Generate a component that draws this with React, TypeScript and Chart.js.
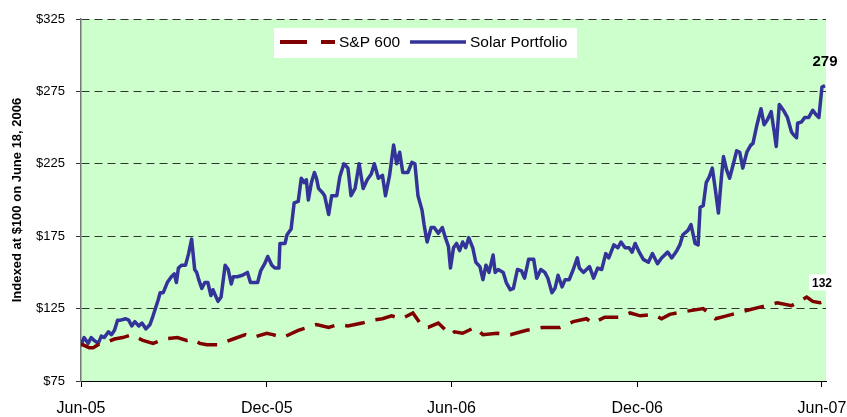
import React, { useEffect, useRef } from "react";
import { Chart, registerables } from "chart.js";

Chart.register(...registerables);

// X axis: days since the start of June 2005
const xTickDays = [0, 183, 365, 548, 730];
const xTickLabels = ["Jun-05", "Dec-05", "Jun-06", "Dec-06", "Jun-07"];
const xMaxDay = 734;

const yMin = 75;
const yMax = 325;
const yStep = 50;

const seriesNames = ["S&P 600", "Solar Portfolio"];
const endLabels = ["132", "279"];
const yAxisTitle = "Indexed at $100 on June 18, 2006";

const solarDays = [
  0, 3, 7, 10, 13, 17, 20, 23, 27, 30,
  33, 36, 39, 44, 47, 50, 53, 57, 60, 64,
  68, 71, 76, 78, 81, 85, 89, 92, 94, 96,
  99, 103, 106, 109, 112, 114, 116, 119, 122, 125,
  128, 130, 135, 138, 142, 145, 148, 150, 154, 159,
  164, 167, 171, 174, 177, 181, 184, 188, 191, 195,
  196, 201, 203, 207, 210, 214, 217, 220, 222, 224,
  227, 230, 232, 234, 238, 240, 244, 247, 252, 255,
  259, 263, 266, 270, 274, 278, 282, 286, 289, 293,
  297, 300, 304, 308, 311, 314, 317, 322, 326, 329,
  332, 336, 338, 341, 345, 348, 352, 356, 359, 362,
  364, 367, 370, 373, 376, 379, 382, 386, 389, 393,
  396, 399, 402, 406, 408, 411, 416, 419, 423, 426,
  430, 434, 437, 441, 446, 449, 453, 457, 460, 464,
  467, 470, 474, 477, 481, 485, 489, 491, 495, 501,
  505, 509, 513, 517, 520, 525, 529, 532, 536, 540,
  543, 546, 550, 554, 559, 563, 568, 572, 578, 582,
  587, 590, 593, 598, 601, 605, 608, 610, 613, 616,
  619, 622, 625, 628, 631, 633, 636, 639, 642, 646,
  649, 652, 656, 660, 662, 666, 670, 673, 676, 680,
  683, 685, 688, 692, 696, 700, 702, 705, 706, 710,
  713, 717, 721, 724, 727, 730, 733,
];

const solarValues = [
  100, 105, 101, 105, 103, 101, 106, 105, 109, 107,
  110, 117, 117, 118, 117, 113, 116, 113, 115, 111,
  114, 120, 131, 136, 136, 143, 147, 149, 143, 153,
  155, 155, 163, 173, 152, 150, 145, 139, 143, 143,
  134, 138, 130, 133, 155, 152, 142, 147, 147, 148,
  150, 143, 143, 143, 151, 156, 161, 155, 153, 153,
  170, 170, 176, 180, 198, 199, 215, 212, 214, 200,
  212, 219, 215, 208, 205, 203, 190, 203, 203, 216,
  225, 222, 203, 208, 225, 208, 214, 218, 225, 215,
  217, 203, 217, 238, 225, 233, 219, 219, 226, 225,
  203, 193, 183, 171, 181, 181, 177, 181, 174, 168,
  153, 167, 170, 165, 171, 167, 174, 167, 157, 154,
  145, 155, 150, 162, 150, 152, 150, 143, 138, 139,
  152, 151, 146, 159, 159, 146, 152, 150, 146, 136,
  139, 148, 140, 145, 145, 152, 160, 153, 150, 154,
  146, 153, 152, 163, 160, 169, 167, 171, 167, 167,
  164, 170, 164, 159, 157, 163, 156, 160, 164, 160,
  165, 169, 176, 179, 183, 170, 169, 195, 196, 212,
  216, 222, 207, 191, 216, 230, 221, 215, 223, 234,
  233, 222, 233, 238, 239, 252, 263, 252, 255, 261,
  247, 237, 266, 262, 257, 247, 245, 243, 253, 254,
  257, 257, 262, 259, 257, 278, 279,
];

const spDays = [
  0, 2, 8, 12, 19, 26, 33, 41, 50, 61,
  71, 82, 95, 104, 110, 117, 124, 135, 142, 150,
  162, 169, 183, 189, 199, 214, 223, 232, 244, 253,
  263, 277, 287, 297, 306, 316, 327, 336, 342, 352,
  364, 368, 376, 388, 396, 410, 423, 439, 455, 472,
  485, 498, 504, 516, 531, 541, 551, 564, 572, 580,
  595, 613, 625, 636, 652, 669, 686, 700, 715, 721,
  728, 733,
];

const spValues = [
  100, 100, 98, 98, 101, 102, 104, 105, 107, 103,
  101, 104, 105, 103, 104, 101, 100, 100, 102, 104,
  107, 105, 108, 107, 105, 110, 112, 114, 112, 114,
  113, 115, 117, 118, 120, 118, 122, 113, 112, 115,
  107, 109, 108, 112, 107, 108, 107, 110, 112, 112,
  116, 118, 115, 119, 119, 122, 120, 121, 118, 121,
  123, 125, 118, 120, 123, 126, 129, 127, 133, 130,
  129, 130,
];

const FONT = "'Liberation Sans', Arial, sans-serif";
const SP_COLOR = "#800000";
const SOLAR_COLOR = "#333399";

const decorPlugin = {
  id: "decor",
  beforeDraw(chart: any) {
    const { ctx, chartArea: a } = chart;
    ctx.save();
    ctx.fillStyle = "#CCFFCC";
    ctx.fillRect(a.left, a.top, a.right - a.left, a.bottom - a.top);
    ctx.restore();
  },
  afterDraw(chart: any) {
    const { ctx, chartArea: a, scales } = chart;
    const xs = scales.x;
    const ys = scales.y;
    ctx.save();
    // Legend box inside the plot
    const lx = a.left + 193;
    const ly = a.top + 9;
    ctx.fillStyle = "#FFFFFF";
    ctx.fillRect(lx, ly, 303, 30);
    const midY = ly + 14;
    ctx.lineCap = "butt";
    ctx.strokeStyle = SP_COLOR;
    ctx.lineWidth = 4;
    ctx.setLineDash([27, 14]);
    ctx.beginPath();
    ctx.moveTo(lx + 6, midY);
    ctx.lineTo(lx + 61, midY);
    ctx.stroke();
    ctx.setLineDash([]);
    ctx.strokeStyle = SOLAR_COLOR;
    ctx.lineWidth = 3.5;
    ctx.beginPath();
    ctx.moveTo(lx + 136, midY);
    ctx.lineTo(lx + 192, midY);
    ctx.stroke();
    ctx.fillStyle = "#000";
    ctx.font = "15.5px " + FONT;
    ctx.textBaseline = "middle";
    ctx.textAlign = "left";
    ctx.fillText(seriesNames[0], lx + 65, midY + 1);
    ctx.fillText(seriesNames[1], lx + 196, midY + 1);

    // End labels
    const spLastX = xs.getPixelForValue(spDays[spDays.length - 1]);
    const spLastY = ys.getPixelForValue(spValues[spValues.length - 1]);
    const soLastX = xs.getPixelForValue(solarDays[solarDays.length - 1]);
    const soLastY = ys.getPixelForValue(solarValues[solarValues.length - 1]);

    ctx.textAlign = "center";
    ctx.font = "bold 12px " + FONT;
    const bx = spLastX - 3;
    const by = spLastY - 19;
    ctx.fillStyle = "#FFFFFF";
    ctx.fillRect(bx - 13, by - 8, 26, 16);
    ctx.fillStyle = "#000";
    ctx.fillText(endLabels[0], bx, by + 1);

    ctx.font = "bold 15px " + FONT;
    ctx.fillText(endLabels[1], soLastX, soLastY - 24);
    ctx.restore();
  },
};

export default function App() {
  const ref = useRef<HTMLCanvasElement>(null);

  useEffect(() => {
    document.body.style.margin = "0";
    Chart.defaults.font.family = FONT;
    Chart.defaults.color = "#000";
    const chart = new Chart(ref.current as HTMLCanvasElement, {
      type: "line",
      data: {
        datasets: [
          {
            label: seriesNames[0],
            data: spDays.map((d, i) => ({ x: d, y: spValues[i] })),
            borderColor: SP_COLOR,
            backgroundColor: SP_COLOR,
            borderWidth: 3.5,
            borderDash: [20, 11],
            pointRadius: 0,
            tension: 0,
            fill: false,
          },
          {
            label: seriesNames[1],
            data: solarDays.map((d, i) => ({ x: d, y: solarValues[i] })),
            borderColor: SOLAR_COLOR,
            backgroundColor: SOLAR_COLOR,
            borderWidth: 3.5,
            borderJoinStyle: "round",
            pointRadius: 0,
            tension: 0,
            fill: false,
          },
        ],
      },
      options: {
        animation: false,
        responsive: false,
        devicePixelRatio: 1,
        layout: { padding: { top: 19, right: 21, left: 0, bottom: 0 } },
        plugins: {
          legend: { display: false },
          tooltip: { enabled: false },
        },
        scales: {
          x: {
            type: "linear",
            min: 0,
            max: xMaxDay,
            afterBuildTicks: (scale: any) => {
              scale.ticks = xTickDays.map((v) => ({ value: v }));
            },
            afterFit: (scale: any) => {
              scale.height = 36;
              scale.paddingLeft = 0;
              scale.paddingRight = 0;
            },
            ticks: {
              autoSkip: false,
              maxRotation: 0,
              padding: 12,
              color: "#000",
              font: { size: 16 },
              callback: (v: any) => {
                const i = xTickDays.indexOf(Number(v));
                return i >= 0 ? xTickLabels[i] : "";
              },
            },
            grid: {
              drawOnChartArea: false,
              drawTicks: true,
              tickLength: 6,
              tickColor: "#000",
            },
            border: { color: "#000", width: 1 },
          },
          y: {
            min: yMin,
            max: yMax,
            afterFit: (scale: any) => {
              scale.width = 81;
            },
            ticks: {
              stepSize: yStep,
              padding: 11,
              color: "#000",
              font: { size: 13 },
              callback: (v: any) => "$" + v,
            },
            grid: {
              color: "#333",
              lineWidth: 1,
              tickLength: 5,
              tickColor: "#333",
              tickBorderDash: [],
            },
            border: { color: "#777", width: 1.5, dash: [8, 5] },
            title: {
              display: true,
              text: yAxisTitle,
              color: "#000",
              font: { size: 13, weight: "bold" },
              padding: { top: 10, bottom: 0 },
            },
          },
        },
      } as any,
      plugins: [decorPlugin],
    });
    return () => chart.destroy();
  }, []);

  return (
    <div style={{ width: 847, height: 417 }}>
      <canvas
        ref={ref}
        width={847}
        height={417}
        style={{ display: "block", width: 847, height: 417 }}
      />
    </div>
  );
}
